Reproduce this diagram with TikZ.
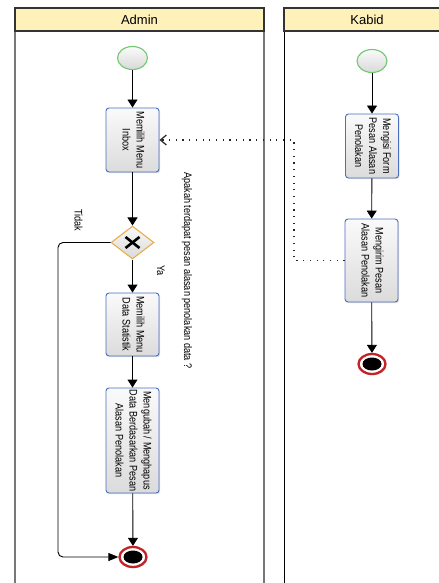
\documentclass[tikz,border=0pt]{standalone}
\usepackage{fontspec}
\setmainfont{Liberation Sans}
\usetikzlibrary{shapes.geometric,arrows.meta,shadows}
\definecolor{hdr}{RGB}{254,241,186}
\definecolor{taskblue}{RGB}{74,110,192}
\definecolor{gwor}{RGB}{234,170,60}
\definecolor{stgreen}{RGB}{112,200,112}
\definecolor{endred}{RGB}{196,34,38}
\definecolor{lanegray}{RGB}{120,120,120}
\newcommand\vtxt[1]{\rotatebox{-90}{\scalebox{0.83}[1]{\fontsize{11bp}{14bp}\selectfont\begin{tabular}{@{}c@{}}#1\end{tabular}}}}
\begin{document}
\begin{tikzpicture}[x=1bp,y=-1bp,
  task/.style={draw=taskblue, line width=0.9bp, rounded corners=3bp, top color=white!96!gray, bottom color=gray!28,
    minimum width=53bp, inner sep=0pt, text=black,
    drop shadow={shadow xshift=1.2bp, shadow yshift=-1.2bp, opacity=0.25}},
  gate/.style={diamond, draw=gwor, line width=1bp, top color=white!96!gray, bottom color=gray!30,
    minimum width=43bp, minimum height=33bp, inner sep=0pt},
  startev/.style={ellipse, draw=stgreen, line width=1.1bp, top color=white!96!gray, bottom color=gray!30,
    minimum width=30bp, minimum height=23bp, inner sep=0pt},
  endev/.style={ellipse, draw=endred, line width=2.3bp, fill=white,
    minimum width=27bp, minimum height=20bp, inner sep=0pt,
    drop shadow={shadow xshift=1bp, shadow yshift=-1.2bp, opacity=0.3}},
  endcore/.style={ellipse, fill=black, minimum width=19bp, minimum height=13bp, inner sep=0pt},
  flow/.style={draw=black, line width=0.9bp, -{Triangle[length=8bp,width=10bp]}},
  hflow/.style={draw=black, line width=0.9bp, -{Triangle[length=10bp,width=8bp]}},
  msg/.style={draw=black!85, line width=1.2bp, dash pattern=on 1.2bp off 5.5bp, -{Straight Barb[length=6bp,width=10bp]}},
  lbl/.style={inner sep=0pt, text=black},
  hdrtxt/.style={inner sep=0pt, font=\fontsize{13bp}{15bp}\selectfont, text=black}
]
\useasboundingbox (0,0) rectangle (439,583);
% lanes
\fill[white] (0,0) rectangle (439,583);
\draw[lanegray, line width=1.8bp] (15,31) -- (15,590);
\draw[lanegray, line width=1.8bp] (264,31) -- (264,590);
\draw[black!80, line width=1.4bp, fill=hdr] (15,8) rectangle (264,31);
\draw[black, line width=0.9bp] (284,31) -- (284,590);
\draw[black!80, line width=1.4bp, fill=hdr] (284,8) rectangle (450,31);
\node[hdrtxt] (hadmin) at (139.5,19.5) {Admin};
\node[hdrtxt] (hkabid) at (367,19.5) {Kabid};

% Admin lane
\node[startev] (s1) at (132.5,58) {};
\node[task, minimum height=64bp] (inbox) at (132.5,140) {\vtxt{Memilih Menu\\Inbox}};
\node[gate] (dec) at (132.5,242.5) {};
\draw[line width=2.6bp, line cap=butt] ([shift={(-7,-5.5)}]dec.center) -- ([shift={(7,5.5)}]dec.center);
\draw[line width=2.6bp, line cap=butt] ([shift={(-7,5.5)}]dec.center) -- ([shift={(7,-5.5)}]dec.center);
\node[task, minimum height=63bp] (stat) at (132.5,324.5) {\vtxt{Memilih Menu\\Data Statistik}};
\node[task, minimum height=105bp] (ubah) at (132.5,440.5) {\vtxt{Mengubah / Menghapus\\Data Berdasarkan Pesan\\Alasan Penolakan}};
\node[endev] (e1) at (133,557) {};
\node[endcore] (e1c) at (133,557) {};

\node[lbl] (tidak) at (77.5,220) {\vtxt{Tidak}};
\node[lbl] (ya) at (160,270.5) {\vtxt{Ya}};
\node[lbl] (q) at (187,270.5) {\vtxt{Apakah terdapat pesan alasan penolakan data ?}};

\draw[flow] (s1) -- (inbox);
\draw[flow] (inbox) -- (dec);
\draw[flow] (dec) -- (stat);
\draw[flow] (stat) -- (ubah);
\draw[flow] (ubah) -- (e1);
\coordinate (tc) at (58,400);
\draw[hflow, rounded corners=5bp] (dec.west) -| (tc) |- (e1.west);

% Kabid lane
\node[startev] (s2) at (372,61) {};
\node[task, minimum height=64bp] (form) at (372,146) {\vtxt{Mengisi Form\\Pesan Alasan\\Penolakan}};
\node[task, minimum height=83bp] (kirim) at (371.5,260.5) {\vtxt{Mengirim Pesan\\Alasan Penolakan}};
\node[endev] (e2) at (372,364) {};
\node[endcore] (e2c) at (372,364) {};

\draw[flow] (s2) -- (form);
\draw[flow] (form) -- (kirim);
\draw[flow] (kirim) -- (e2);

\coordinate (mc) at (294,200);
\draw[msg] (kirim.west) -| (mc) |- (inbox.east);
\end{tikzpicture}
\end{document}
